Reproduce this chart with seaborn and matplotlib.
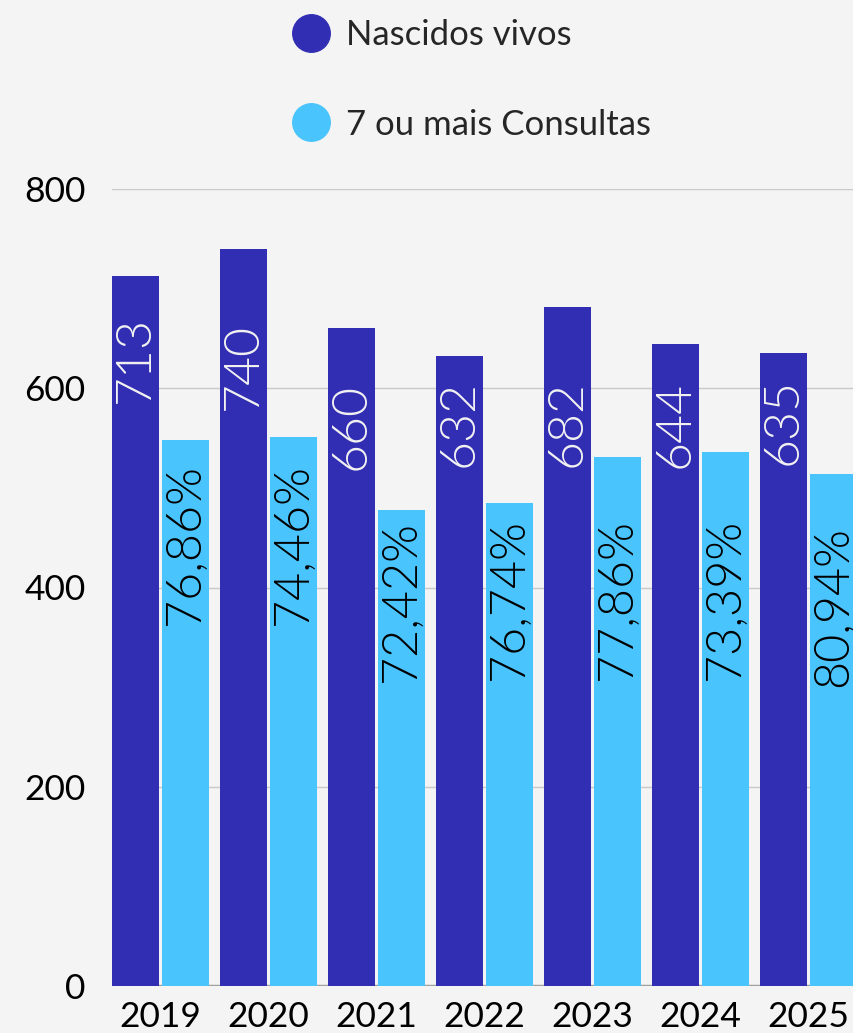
import pandas as pd
import numpy as np
import matplotlib
matplotlib.use('Agg')
import matplotlib.pyplot as plt
import seaborn as sns
from matplotlib.lines import Line2D

years = ['2019', '2020', '2021', '2022', '2023', '2024', '2025']
nascidos = [713, 740, 660, 632, 682, 644, 635]
consultas = [548, 551, 478, 485, 531, 536, 514]
consultas_pct = ['76,86%', '74,46%', '72,42%', '76,74%', '77,86%', '73,39%', '80,94%']
series = ['Nascidos vivos', '7 ou mais Consultas']

DARK = '#322EB4'
LIGHT = '#4AC4FD'
BG = '#F4F4F4'

df = pd.DataFrame({
    'ano': years * 2,
    'serie': [series[0]] * len(years) + [series[1]] * len(years),
    'valor': nascidos + consultas,
})

sns.set_style('white', {'axes.facecolor': BG, 'figure.facecolor': BG})
plt.rcParams['font.family'] = ['Lato', 'DejaVu Sans']

fig = plt.figure(figsize=(8.54, 10.33), dpi=100, facecolor=BG)
ax = fig.add_axes([112 / 854, 47 / 1033, 742 / 854, (986 - 189) / 1033])
ax.set_facecolor(BG)

sns.barplot(data=df, x='ano', y='valor', hue='serie', hue_order=series,
            palette=[DARK, LIGHT], saturation=1, width=0.926, gap=0.06, linewidth=0,
            legend=False, ax=ax, zorder=3)

ax.set_xlim(-0.449, 6.42)
ax.set_ylim(0, 800)
ax.set_yticks([0, 200, 400, 600, 800])
ax.set_xlabel('')
ax.set_ylabel('')
for s in ax.spines.values():
    s.set_visible(False)
ax.yaxis.grid(True, color='#C9C9C9', lw=1)
ax.set_axisbelow(True)
ax.axhline(0, color='#A0A0A0', lw=2.5, zorder=2)
ax.tick_params(axis='both', length=0, labelsize=25.5, colors='black')
ax.tick_params(axis='y', pad=19)
ax.tick_params(axis='x', pad=11)

# where the rotated labels start (data units)
nasc_label_y = [585, 578, 518, 521, 521, 520, 523]
cons_label_y = [362, 362, 305, 307, 307, 307, 300]

for i, p in enumerate(ax.containers[0]):
    x = p.get_x() + p.get_width() / 2
    ax.text(x, nasc_label_y[i], str(nascidos[i]), rotation=90, ha='center', va='bottom',
            color='#F2F2F2', fontsize=36, fontweight=300, zorder=5)
for i, p in enumerate(ax.containers[1]):
    x = p.get_x() + p.get_width() / 2
    ax.text(x, cons_label_y[i], consultas_pct[i], rotation=90, ha='center', va='bottom',
            color='black', fontsize=35, fontweight=300, zorder=5)

handles = [Line2D([], [], marker='o', ls='', markersize=27, color=c) for c in [DARK, LIGHT]]
fig.legend(handles, series, loc='center left', bbox_to_anchor=(290 / 854, 1 - 80 / 1033),
           frameon=False, fontsize=25, handlelength=1.2, handletextpad=0.42,
           labelspacing=1.65, borderpad=0, borderaxespad=0)

fig.savefig('out.png', dpi=100, facecolor=BG)
